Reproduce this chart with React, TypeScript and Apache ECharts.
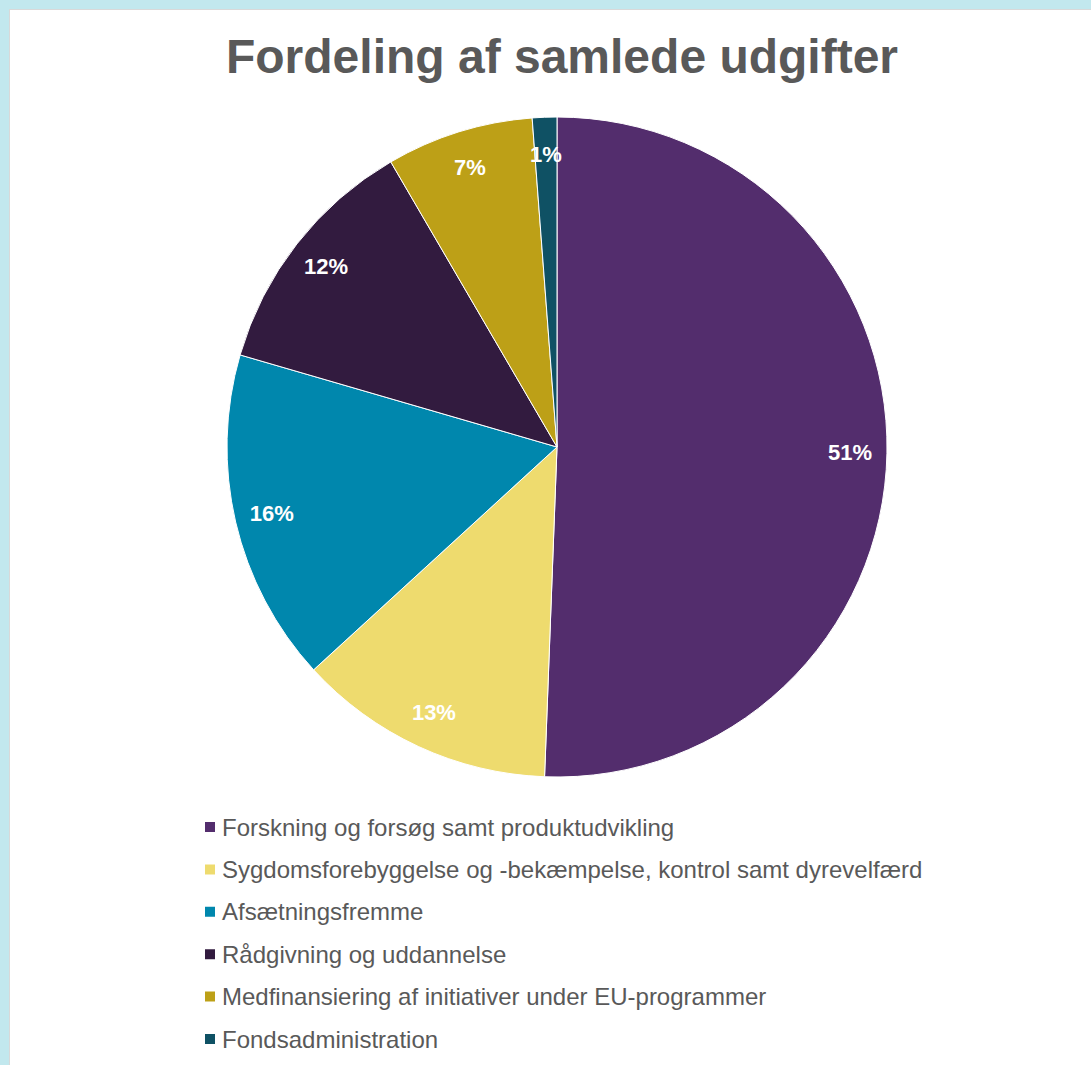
import React, { useEffect, useRef } from "react";
import * as echarts from "echarts";

const categories = [
  "Forskning og forsøg samt produktudvikling",
  "Sygdomsforebyggelse og -bekæmpelse, kontrol samt dyrevelfærd",
  "Afsætningsfremme",
  "Rådgivning og uddannelse",
  "Medfinansiering af initiativer under EU-programmer",
  "Fondsadministration",
];
const shares = [50.6, 12.6, 16.3, 12.1, 7.2, 1.2];
const colors = ["#532d6d", "#eedb6e", "#0087ad", "#321b3f", "#bda017", "#0f5164"];
const title = "Fordeling af samlede udgifter";

export default function App() {
  const ref = useRef<HTMLDivElement>(null);
  useEffect(() => {
    document.body.style.margin = "0";
    const chart = echarts.init(ref.current!, null, { renderer: "svg" });
    const data = categories.map((name, i) => ({ name, value: shares[i], itemStyle: { color: colors[i] } }));
    chart.setOption({
      animation: false,
      title: {
        text: title,
        left: 557,
        textAlign: "center",
        top: 27,
        textStyle: { fontFamily: "Liberation Sans, Arial", fontSize: 48, fontWeight: "bold", color: "#595959" },
      },
      legend: {
        orient: "vertical",
        left: 198,
        top: 810,
        height: 280,
        itemWidth: 12,
        itemHeight: 12,
        itemGap: 18.4,
        icon: "rect",
        data: categories,
        textStyle: { fontFamily: "Liberation Sans, Arial", fontSize: 24, color: "#595959", lineHeight: 22, padding: [0, 0, 0, 1] },
      },
      series: [
        {
          type: "pie",
          center: [557, 447],
          radius: 330,
          startAngle: 90,
          clockwise: true,
          label: { show: false },
          labelLine: { show: false },
          itemStyle: { borderColor: "#ffffff", borderWidth: 1 },
          data,
        },
        {
          type: "pie",
          center: [557, 447],
          radius: [250, 330],
          startAngle: 90,
          clockwise: true,
          silent: true,
          legendHoverLink: false,
          itemStyle: { color: "rgba(0,0,0,0)" },
          label: {
            show: true,
            position: "inside",
            formatter: (p: any) => Math.round(p.value) + "%",
            fontFamily: "Liberation Sans, Arial",
            fontSize: 22,
            fontWeight: "bold",
            color: "#ffffff",
          },
          labelLine: { show: false },
          data: categories.map((name, i) => ({ name: name + " ", value: shares[i] })),
        },
      ],
    });
    return () => chart.dispose();
  }, []);
  return (
    <div style={{ position: "fixed", left: 0, top: 0, width: 1091, height: 1065, background: "#c2e8ee", overflow: "hidden" }}>
      <div style={{ position: "absolute", left: 9, top: 9, width: 1100, height: 1100, background: "#ffffff", borderLeft: "1px solid #d9d9d9", borderTop: "1px solid #d9d9d9" }} />
      <div ref={ref} style={{ position: "absolute", left: 0, top: 0, width: 1091, height: 1065 }} />
    </div>
  );
}
